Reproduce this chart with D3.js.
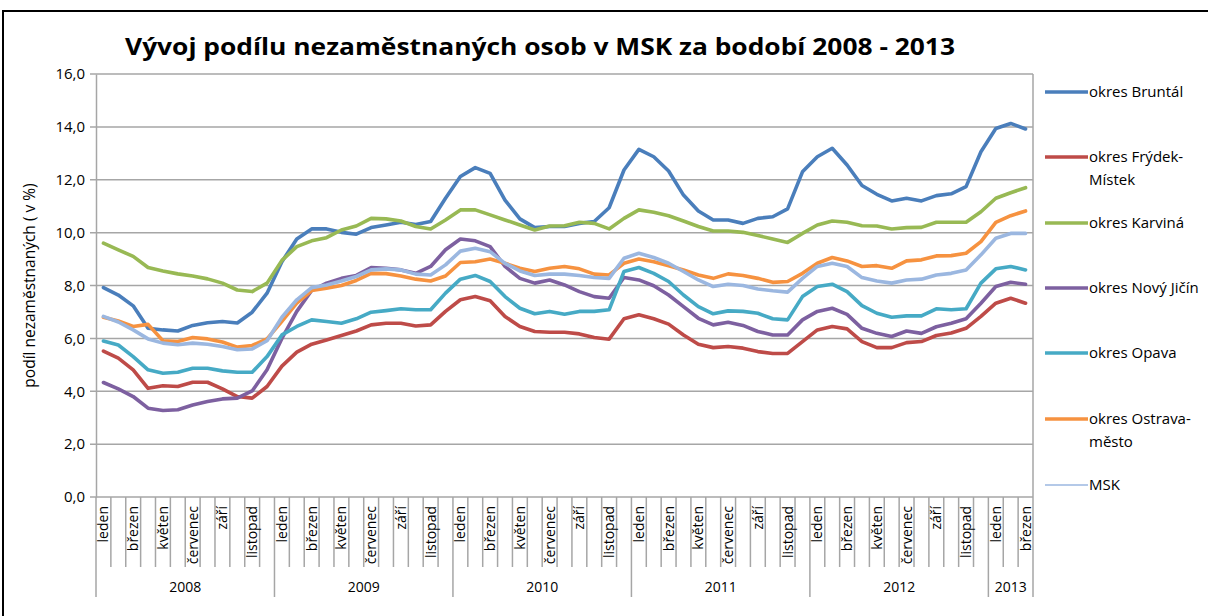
<!DOCTYPE html>
<html><head><meta charset="utf-8">
<script src="https://cdn.jsdelivr.net/npm/d3@7"></script>
<style>body{margin:0;background:#fff}svg{display:block}</style>
</head><body>
<svg id="c" width="1208" height="616"></svg>
<script>
const monthNames = ["leden","únor","březen","duben","květen","červen","červenec","srpen","září","říjen","listopad","prosinec"];
const years = ["2008","2009","2010","2011","2012","2013"];
const monthsPerYear = [12,12,12,12,12,3];
const yTicks = [0,2,4,6,8,10,12,14,16];

const bruntal = [7.92,7.64,7.23,6.38,6.32,6.28,6.49,6.59,6.64,6.58,6.99,7.71,
 8.9,9.76,10.14,10.14,10.01,9.94,10.19,10.29,10.39,10.31,10.42,11.3,
 12.12,12.46,12.24,11.23,10.52,10.19,10.23,10.23,10.35,10.42,10.94,12.37,
 13.15,12.87,12.33,11.42,10.82,10.48,10.48,10.35,10.54,10.6,10.9,12.3,
 12.87,13.19,12.56,11.78,11.45,11.2,11.3,11.2,11.4,11.47,11.74,13.06,
 13.94,14.13,13.92];
const frydek = [5.52,5.25,4.81,4.11,4.21,4.18,4.34,4.34,4.09,3.8,3.74,4.18,
 4.95,5.48,5.78,5.94,6.11,6.28,6.51,6.57,6.57,6.47,6.51,7.02,
 7.46,7.58,7.42,6.83,6.45,6.26,6.23,6.23,6.17,6.03,5.97,6.74,
 6.89,6.74,6.54,6.13,5.78,5.65,5.69,5.63,5.5,5.43,5.43,5.88,
 6.32,6.45,6.36,5.88,5.65,5.65,5.84,5.88,6.11,6.2,6.38,6.83,
 7.33,7.52,7.33];
const karvina = [9.6,9.35,9.1,8.68,8.55,8.44,8.36,8.25,8.09,7.83,7.77,8.09,
 8.95,9.47,9.69,9.81,10.1,10.25,10.54,10.52,10.44,10.23,10.14,10.48,
 10.86,10.86,10.67,10.48,10.29,10.1,10.25,10.26,10.39,10.35,10.14,10.54,
 10.86,10.77,10.64,10.44,10.23,10.06,10.06,10.01,9.89,9.76,9.63,9.97,
 10.29,10.44,10.39,10.26,10.25,10.14,10.19,10.2,10.39,10.39,10.39,10.79,
 11.3,11.51,11.7];
const novyJicin = [4.33,4.09,3.8,3.36,3.27,3.3,3.48,3.61,3.71,3.74,4.01,4.81,
 6.0,7.02,7.81,8.09,8.27,8.38,8.68,8.65,8.59,8.46,8.72,9.35,
 9.76,9.69,9.47,8.72,8.27,8.09,8.21,8.02,7.77,7.58,7.52,8.3,
 8.21,7.99,7.64,7.2,6.76,6.51,6.61,6.49,6.26,6.13,6.13,6.7,
 7.02,7.14,6.91,6.38,6.19,6.07,6.28,6.19,6.44,6.57,6.74,7.33,
 7.96,8.12,8.05];
const opava = [5.9,5.75,5.31,4.81,4.68,4.72,4.87,4.87,4.77,4.72,4.72,5.31,
 6.13,6.45,6.7,6.64,6.57,6.74,6.99,7.05,7.12,7.08,7.08,7.71,
 8.24,8.38,8.15,7.58,7.14,6.93,7.02,6.91,7.02,7.02,7.08,8.53,
 8.68,8.46,8.15,7.64,7.2,6.93,7.04,7.02,6.95,6.74,6.7,7.58,
 7.96,8.05,7.77,7.24,6.95,6.8,6.85,6.85,7.12,7.08,7.12,8.09,
 8.63,8.72,8.59];
const ostrava = [6.8,6.66,6.45,6.53,5.91,5.88,6.03,5.98,5.86,5.67,5.73,5.98,
 6.64,7.33,7.81,7.9,8.0,8.19,8.46,8.45,8.36,8.24,8.17,8.36,
 8.87,8.9,9.0,8.84,8.65,8.53,8.65,8.72,8.63,8.43,8.4,8.84,
 9.0,8.9,8.75,8.59,8.4,8.27,8.44,8.38,8.27,8.12,8.15,8.46,
 8.84,9.06,8.93,8.72,8.75,8.65,8.93,8.97,9.12,9.13,9.22,9.66,
 10.39,10.64,10.82];
const msk = [6.83,6.62,6.32,5.98,5.82,5.76,5.82,5.78,5.69,5.57,5.6,5.91,
 6.8,7.46,7.92,8.02,8.17,8.34,8.59,8.63,8.59,8.43,8.4,8.78,
 9.3,9.41,9.28,8.84,8.55,8.38,8.43,8.43,8.38,8.3,8.27,9.03,
 9.22,9.06,8.84,8.53,8.21,7.96,8.05,8.0,7.87,7.8,7.75,8.27,
 8.72,8.84,8.72,8.3,8.17,8.09,8.21,8.24,8.4,8.46,8.59,9.16,
 9.79,9.97,9.97];

const seriesNames = ["okres Bruntál","okres Frýdek-Místek","okres Karviná","okres Nový Jičín","okres Opava","okres Ostrava-město","MSK"];
const legendLines = [["okres Bruntál"],["okres Frýdek-","Místek"],["okres Karviná"],["okres Nový Jičín"],["okres Opava"],["okres Ostrava-","město"],["MSK"]];
const seriesValues = [bruntal,frydek,karvina,novyJicin,opava,ostrava,msk];
const colors = ["#4A7EBB","#BE4B48","#98B954","#7D60A0","#46AAC5","#F69240","#9BB7E0"];

const FONT = "'Open Sans', sans-serif";
const svg = d3.select("#c");
const L = 96, R = 1033, T = 74, B = 497;

// categories
const cats = [];
years.forEach((y,yi)=>{ for(let m=0;m<monthsPerYear[yi];m++) cats.push({year:y, yi, m, label: monthNames[m]}); });
const x = d3.scaleBand().domain(d3.range(cats.length)).range([L,R]).padding(0);
const y = d3.scaleLinear().domain([0,16]).range([B,T]);
const bw = x.bandwidth();

// outer frame
svg.append("rect").attr("x",3).attr("y",11).attr("width",1220).attr("height",620)
  .attr("fill","none").attr("stroke","#000").attr("stroke-width",2);

// title
const title = svg.append("text").attr("x",540).attr("y",55).attr("text-anchor","middle")
  .attr("font-family",FONT).attr("font-weight","bold").attr("font-size",24).attr("fill","#000")
  .text("Vývoj podílu nezaměstnaných osob v MSK za bodobí 2008 - 2013");
title.attr("textLength",830).attr("lengthAdjust","spacingAndGlyphs");

// gridlines
const gridColor = "#A6A6A6";
svg.append("g").selectAll("line").data(yTicks).join("line")
  .attr("x1",L-6).attr("x2",R).attr("y1",d=>y(d)).attr("y2",d=>y(d))
  .attr("stroke",gridColor).attr("stroke-width",1.5);

// y axis
const yAxis = d3.axisLeft(y).tickValues(yTicks).tickSize(0).tickPadding(11)
  .tickFormat(d=>d3.format(".1f")(d).replace(".",","));
const ga = svg.append("g").attr("transform",`translate(${L},0)`).call(yAxis);
ga.select(".domain").attr("stroke",gridColor).attr("stroke-width",1.5);
ga.selectAll("text").attr("font-family",FONT).attr("font-size",15).attr("fill","#000");

// right border
svg.append("line").attr("x1",R).attr("x2",R).attr("y1",T).attr("y2",B).attr("stroke",gridColor).attr("stroke-width",1.5);

// y title
svg.append("text").attr("transform",`translate(35,${(T+B)/2}) rotate(-90)`).attr("text-anchor","middle")
  .attr("font-family",FONT).attr("font-size",15.5).attr("fill","#000").text("podíl nezaměstnaných ( v %)");

// category separators
const bounds = d3.range(cats.length+1);
const yearStarts = new Set(); let acc=0; monthsPerYear.forEach(n=>{yearStarts.add(acc); acc+=n;}); yearStarts.add(acc);
svg.append("g").selectAll("line").data(bounds).join("line")
  .attr("x1",k=>k<cats.length?x(k):R).attr("x2",k=>k<cats.length?x(k):R)
  .attr("y1",B).attr("y2",k=>yearStarts.has(k)?597:567)
  .attr("stroke",gridColor).attr("stroke-width",1.5);

// month labels (every other)
svg.append("g").selectAll("text").data(cats.filter(c=>c.m%2===0)).join("text")
  .attr("transform",(c)=>`translate(${x(cats.indexOf(c))+bw/2+5},506) rotate(-90)`)
  .attr("text-anchor","end").attr("font-family",FONT).attr("font-size",14).attr("fill","#000")
  .text(c=>c.label);

// year labels
let start=0;
const yearPos = years.map((yr,i)=>{const s=start; start+=monthsPerYear[i]; return {yr, s, e:start};});
svg.append("g").selectAll("text").data(yearPos).join("text")
  .attr("x",d=>((d.s<cats.length?x(d.s):R)+(d.e<cats.length?x(d.e):R))/2).attr("y",592)
  .attr("text-anchor","middle").attr("font-family",FONT).attr("font-size",14).attr("fill","#000")
  .text(d=>d.yr);

// lines
const line = d3.line().x((d,i)=>x(i)+bw/2).y(d=>y(d));
svg.append("g").selectAll("path").data(seriesValues).join("path")
  .attr("d",d=>line(d)).attr("fill","none").attr("stroke",(d,i)=>colors[i])
  .attr("stroke-width",3.6).attr("stroke-linejoin","round").attr("stroke-linecap","round");

// legend
const legY = [92,157,223,288,353,419,485];
const lg = svg.append("g");
seriesNames.forEach((n,i)=>{
  lg.append("line").attr("x1",1045).attr("x2",1088).attr("y1",legY[i]).attr("y2",legY[i])
    .attr("stroke",colors[i]).attr("stroke-width",i===6?1.6:3.6);
  legendLines[i].forEach((t,j)=>{
    lg.append("text").attr("x",1089).attr("y",legY[i]+5+j*23)
      .attr("font-family",FONT).attr("font-size",15).attr("fill","#000").text(t);
  });
});
</script>
</body></html>
